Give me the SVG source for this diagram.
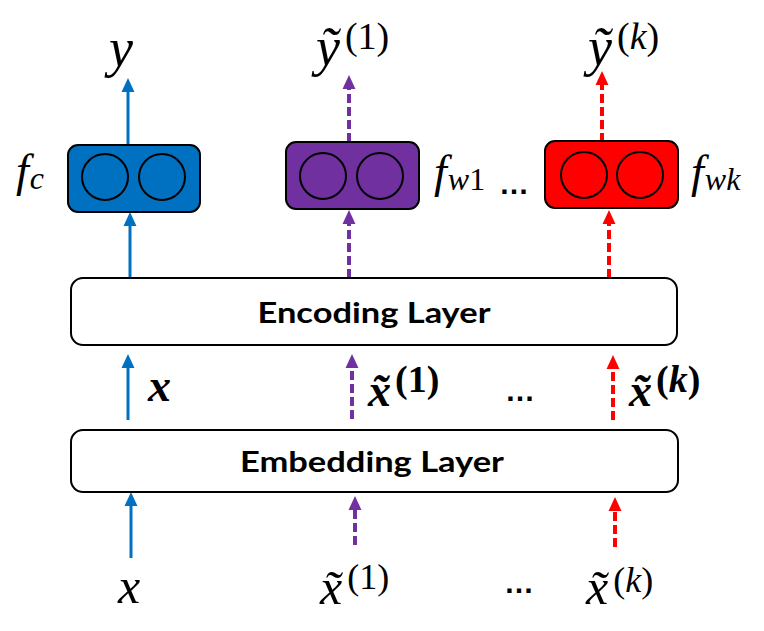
<svg xmlns="http://www.w3.org/2000/svg" width="764" height="631" viewBox="0 0 764 631">
<style>
.m{font-family:"Liberation Serif","DejaVu Serif",serif;font-style:italic;fill:#000}
.mb{font-family:"Liberation Serif","DejaVu Serif",serif;font-style:italic;font-weight:bold;fill:#000}
.up{font-style:normal}
.lbl{font-family:Lato,"Open Sans",sans-serif;font-weight:bold;font-size:28px;fill:#000}
.layer{fill:#fff;stroke:#000;stroke-width:2}
.nn{stroke:#000;stroke-width:2}
.cir{fill:none;stroke:#000;stroke-width:2}
.b{stroke:#0070C0;stroke-width:3;fill:none}
.p{stroke:#7030A0;stroke-width:4;fill:none;stroke-dasharray:9 4}
.r{stroke:#FF0000;stroke-width:4;fill:none;stroke-dasharray:9 4}
.dots{font-family:"Liberation Sans",Arial,sans-serif;font-weight:bold;font-size:30px;fill:#000}
</style>
<defs>
<marker id="ab" markerUnits="userSpaceOnUse" markerWidth="14" markerHeight="14" refX="0" refY="6" orient="auto" viewBox="0 0 13 12"><path d="M0,0 L13,6 L0,12 z" fill="#0070C0"/></marker>
<marker id="ap" markerUnits="userSpaceOnUse" markerWidth="14" markerHeight="14" refX="0" refY="6" orient="auto" viewBox="0 0 13 12"><path d="M0,0 L13,6 L0,12 z" fill="#7030A0"/></marker>
<marker id="ar" markerUnits="userSpaceOnUse" markerWidth="14" markerHeight="14" refX="0" refY="6" orient="auto" viewBox="0 0 13 12"><path d="M0,0 L13,6 L0,12 z" fill="#FF0000"/></marker>
</defs>

<g id="connectors">
  <line class="b" x1="128" y1="145" x2="128" y2="92" marker-end="url(#ab)"/>
  <line class="p" x1="349" y1="142" x2="349" y2="89" marker-end="url(#ap)"/>
  <line class="r" x1="602" y1="142" x2="602" y2="85" marker-end="url(#ar)"/>
  <line class="b" x1="130" y1="278" x2="130" y2="226" marker-end="url(#ab)"/>
  <line class="p" x1="349" y1="278" x2="349" y2="224" marker-end="url(#ap)"/>
  <line class="r" x1="609" y1="278" x2="609" y2="224" marker-end="url(#ar)"/>
  <line class="b" x1="128" y1="420" x2="128" y2="368" marker-end="url(#ab)"/>
  <line class="p" x1="352" y1="419" x2="352" y2="368" marker-end="url(#ap)"/>
  <line class="r" x1="613" y1="420" x2="613" y2="369" marker-end="url(#ar)"/>
  <line class="b" x1="131" y1="558" x2="131" y2="506" marker-end="url(#ab)"/>
  <line class="p" x1="355" y1="545" x2="355" y2="510" marker-end="url(#ap)"/>
  <line class="r" x1="615" y1="547" x2="615" y2="511" marker-end="url(#ar)"/>
</g>

<g id="fc">
  <rect class="nn" x="68" y="145" width="132" height="67" rx="10" fill="#0070C0"/>
  <circle class="cir" cx="105" cy="177" r="23"/>
  <circle class="cir" cx="162" cy="177" r="23"/>
  <text class="m" x="16" y="186" font-size="46">f<tspan font-size="32" dy="3" dx="1">c</tspan></text>
</g>
<g id="fw1">
  <rect class="nn" x="286" y="142" width="133" height="67" rx="10" fill="#7030A0"/>
  <circle class="cir" cx="323" cy="176" r="23"/>
  <circle class="cir" cx="380" cy="176" r="23"/>
  <text class="m" x="434" y="187" font-size="46">f<tspan font-size="32" dy="3" dx="1">w</tspan><tspan class="up" font-size="32">1</tspan></text>
</g>
<g id="fwk">
  <rect class="nn" x="545" y="141" width="133" height="67" rx="10" fill="#FF0000"/>
  <circle class="cir" cx="584" cy="175" r="23"/>
  <circle class="cir" cx="640" cy="175" r="23"/>
  <text class="m" x="691" y="187" font-size="46">f<tspan font-size="32" dy="3" dx="1">wk</tspan></text>
</g>
<text class="dots" x="499" y="194">…</text>

<g id="outputs">
  <text class="m" x="109" y="66" font-size="54">y</text>
  <text class="m" x="316" y="65" font-size="54">ỹ<tspan class="up" font-size="38" dx="5" dy="-16">(1)</tspan></text>
  <text class="m" x="588" y="65" font-size="54">ỹ<tspan class="up" font-size="38" dx="5" dy="-16">(</tspan><tspan font-size="38">k</tspan><tspan class="up" font-size="38">)</tspan></text>
</g>

<g id="encoding">
  <rect class="layer" x="71" y="278" width="606" height="67" rx="12"/>
  <text class="lbl" x="374" y="323" text-anchor="middle" textLength="233" lengthAdjust="spacingAndGlyphs">Encoding Layer</text>
</g>

<g id="mid-labels">
  <text class="mb" x="148" y="401" font-size="46">x</text>
  <text class="mb" x="368" y="406" font-size="46">x̃<tspan class="up" font-size="38" dx="4" dy="-14">(1)</tspan></text>
  <text class="dots" x="505" y="401">…</text>
  <text class="mb" x="629" y="406" font-size="46">x̃<tspan class="up" font-size="38" dx="4" dy="-14">(</tspan><tspan font-size="38">k</tspan><tspan class="up" font-size="38">)</tspan></text>
</g>

<g id="embedding">
  <rect class="layer" x="71" y="430" width="607" height="62" rx="12"/>
  <text class="lbl" x="372" y="472" text-anchor="middle" textLength="264" lengthAdjust="spacingAndGlyphs">Embedding Layer</text>
</g>

<g id="inputs">
  <text class="m" x="118" y="603" font-size="50">x</text>
  <text class="m" x="320" y="604" font-size="50">x̃<tspan class="up" font-size="36" dx="5" dy="-15">(1)</tspan></text>
  <text class="dots" x="504" y="593">…</text>
  <text class="m" x="586" y="604" font-size="50">x̃<tspan class="up" font-size="36" dx="5" dy="-12">(</tspan><tspan font-size="36">k</tspan><tspan class="up" font-size="36">)</tspan></text>
</g>
</svg>
